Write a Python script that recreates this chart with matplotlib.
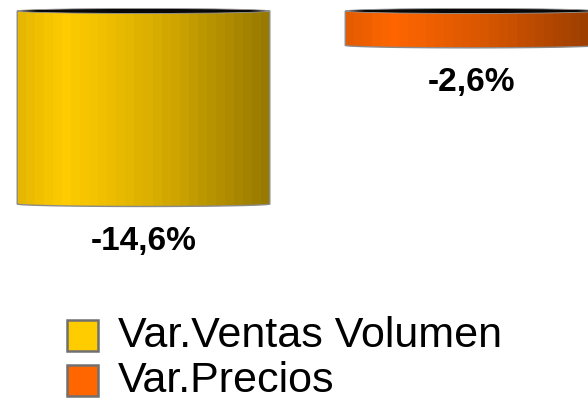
import numpy as np
import matplotlib.pyplot as plt
from matplotlib.colors import LinearSegmentedColormap, to_rgb
from matplotlib.patches import Ellipse, Polygon, Rectangle

plt.rcParams['font.family'] = ['Liberation Sans', 'DejaVu Sans']

# data
series = ['Var.Ventas Volumen', 'Var.Precios']
values = [-14.6, -2.6]
labels = ['-14,6%', '-2,6%']
colors = ['#FFCC00', '#FF6600']

W, H = 588, 411
fig = plt.figure(figsize=(W / 100, H / 100), dpi=100)
ax = fig.add_axes([0, 0, 1, 1])
ax.axis('off')

xlim = (-0.4375, 1.355)
ylim = (-30.26, 0.83)
px_per_y = H / (ylim[1] - ylim[0])
cap_h = 5 / px_per_y          # ellipse height of the cylinder caps
width = 0.77
x = np.arange(len(values))


def cylinder_cmap(c):
    base = np.array(to_rgb(c))
    stops = [(0.0, base * 0.90), (0.18, base), (0.55, base * 0.85), (1.0, base * 0.6)]
    return LinearSegmentedColormap.from_list('cyl', [(p, tuple(np.clip(v, 0, 1))) for p, v in stops])


bars = ax.bar(x, values, width, color='none', edgecolor='none')
for bar, val, col in zip(bars, values, colors):
    x0 = bar.get_x()
    x1 = x0 + bar.get_width()
    xc = x0 + bar.get_width() / 2
    t = np.linspace(np.pi, 2 * np.pi, 60)
    arc = np.column_stack([xc + bar.get_width() / 2 * np.cos(t), val + cap_h / 2 * np.sin(t)])
    pts = np.vstack([[x0, 0], [x0, val], arc, [x1, val], [x1, 0]])
    body = Polygon(pts, closed=True, facecolor='none', edgecolor='#8a8a8a', lw=1.0, zorder=3)
    ax.add_patch(body)
    grad = np.linspace(0, 1, 28)[None, :]
    im = ax.imshow(grad, cmap=cylinder_cmap(col), extent=(x0, x1, val - cap_h, 0),
                   aspect='auto', interpolation='nearest', zorder=2)
    im.set_clip_path(body)
    ax.add_patch(Ellipse((xc, 0), bar.get_width(), cap_h, facecolor='#080808',
                         edgecolor='#9a9a9a', lw=0.6, zorder=4))

for xi, val, lab in zip(x, values, labels):
    ax.annotate(lab, (xi, val), xytext=(0, -27), textcoords='offset points',
                ha='center', va='center', fontsize=24, fontweight='bold', color='black')

ax.set_xlim(*xlim)
ax.set_ylim(*ylim)

# legend drawn by hand
for i, (name, col) in enumerate(zip(series, colors)):
    top = 320 + i * 45
    fig.add_artist(Rectangle((67 / W, 1 - (top + 31) / H), 31 / W, 31 / H,
                             transform=fig.transFigure, facecolor=col,
                             edgecolor='#707070', lw=1.8))
    fig.text(118 / W, 1 - (347 + i * 45) / H, name, fontsize=31,
             va='baseline', ha='left', color='black')

fig.savefig('out.png', dpi=100)
